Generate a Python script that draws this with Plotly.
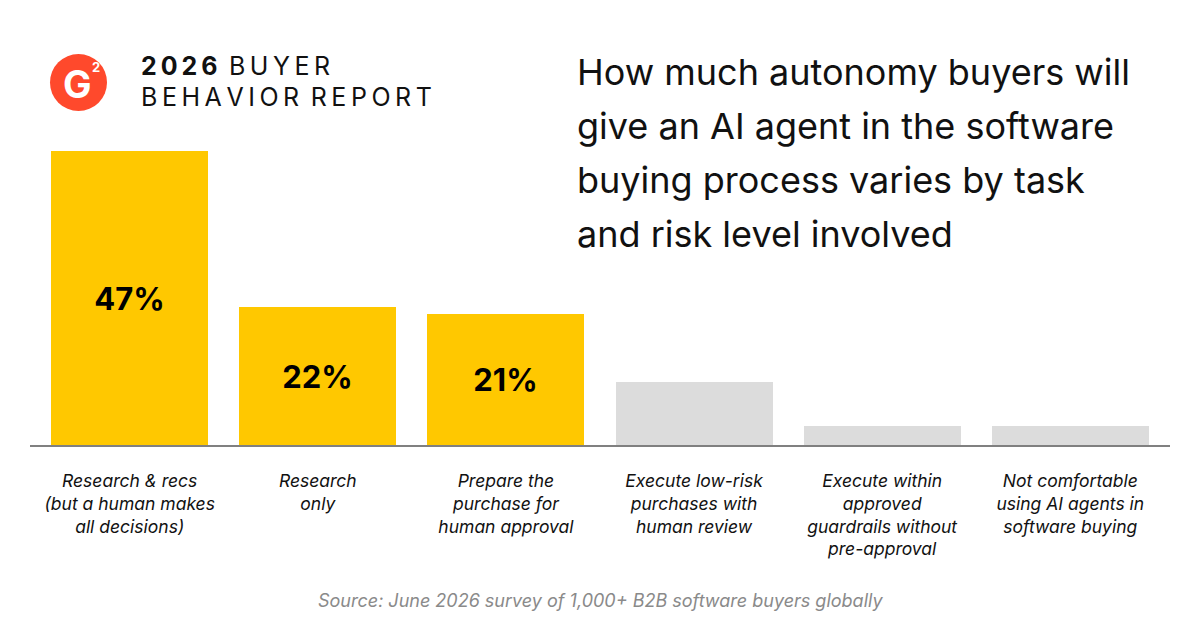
import plotly.graph_objects as go

categories = [
    "Research & recs<br>(but a human makes<br>all decisions)",
    "Research<br>only",
    "Prepare the<br>purchase for<br>human approval",
    "Execute low-risk<br>purchases with<br>human review",
    "Execute within<br>approved<br>guardrails without<br>pre-approval",
    "Not comfortable<br>using AI agents in<br>software buying",
]
values = [47, 22, 21, 10, 3, 3]
labels = ["47%", "22%", "21%", "", "", ""]
colors = ["#FFC800", "#FFC800", "#FFC800", "#DCDCDC", "#DCDCDC", "#DCDCDC"]

title_lines = [
    "How much autonomy buyers will",
    "give an AI agent in the software",
    "buying process varies by task",
    "and risk level involved",
]
source = "Source: June 2026 survey of 1,000+ B2B software buyers globally"

# page has an 8px body margin, so the figure is drawn 8px smaller
OFF = 8
W, H = 1200 - OFF, 630 - OFF
PLOT_X0, PLOT_X1, PLOT_Y0, PLOT_Y1 = 30, 1170, 132, 445   # in page pixels
L, R = PLOT_X0 - OFF, 1200 - PLOT_X1
T, B = PLOT_Y0 - OFF, 630 - PLOT_Y1
FONT = "Inter"


def px(x):
    return (x - PLOT_X0) / (PLOT_X1 - PLOT_X0)


def py(y):
    return (PLOT_Y1 - y) / (PLOT_Y1 - PLOT_Y0)


def spaced(s):
    return "\u2009".join(s)


fig = go.Figure()
fig.add_trace(go.Bar(
    x=list(range(len(values))),
    y=values,
    width=0.835,
    marker=dict(color=colors, line=dict(width=0)),
    text=labels,
    textposition="inside",
    insidetextanchor="middle",
    textangle=0,
    textfont=dict(family=FONT, size=31, color="black", weight="bold"),
    hoverinfo="skip",
))

fig.update_layout(
    width=W, height=H,
    margin=dict(l=L, r=R, t=T, b=B),
    plot_bgcolor="white", paper_bgcolor="white",
    showlegend=False,
    bargap=0,
    xaxis=dict(
        range=[-0.53, 5.53],
        tickvals=list(range(len(categories))),
        ticktext=categories,
        tickfont=dict(family=FONT, size=17.5, color="#111111", style="italic"),
        ticks="", showgrid=False, zeroline=False,
        showline=True, linecolor="#808080", linewidth=2,
        ticklabelstandoff=19,
        fixedrange=True,
    ),
    yaxis=dict(range=[0, 50], visible=False, fixedrange=True),
)

# G2 logo
fig.add_shape(type="circle", xref="paper", yref="paper",
              x0=px(50), x1=px(107), y0=py(111), y1=py(54),
              fillcolor="#FF492C", line=dict(width=0), layer="above")
fig.add_annotation(x=px(77), y=py(84), xref="paper", yref="paper",
                   xanchor="center", yanchor="middle",
                   text="<b>G</b>", showarrow=False,
                   font=dict(family=FONT, size=38, color="white"))
fig.add_annotation(x=px(96), y=py(67), xref="paper", yref="paper",
                   xanchor="center", yanchor="middle",
                   text="<b>2</b>", showarrow=False,
                   font=dict(family=FONT, size=13, color="white"))

# report name
fig.add_annotation(x=px(139), y=py(66), xref="paper", yref="paper",
                   xanchor="left", yanchor="middle", showarrow=False,
                   text="<b>" + spaced("2026") + "</b>\u2009 " + spaced("BUYER"),
                   font=dict(family=FONT, size=25, color="#111111"))
fig.add_annotation(x=px(139), y=py(97), xref="paper", yref="paper",
                   xanchor="left", yanchor="middle", showarrow=False,
                   text=spaced("BEHAVIOR") + "\u2009 " + spaced("REPORT"),
                   font=dict(family=FONT, size=25, color="#111111"))

# headline
for i, line in enumerate(title_lines):
    fig.add_annotation(x=px(575), y=py(72 + 54 * i), xref="paper", yref="paper",
                       xanchor="left", yanchor="middle", showarrow=False,
                       text=line,
                       font=dict(family=FONT, size=36, color="#111111"))

fig.add_annotation(x=px(600), y=py(600), xref="paper", yref="paper",
                   xanchor="center", yanchor="middle", showarrow=False,
                   text=source,
                   font=dict(family=FONT, size=18, color="#8a8a8a", style="italic"))

fig.write_html("out.html")
